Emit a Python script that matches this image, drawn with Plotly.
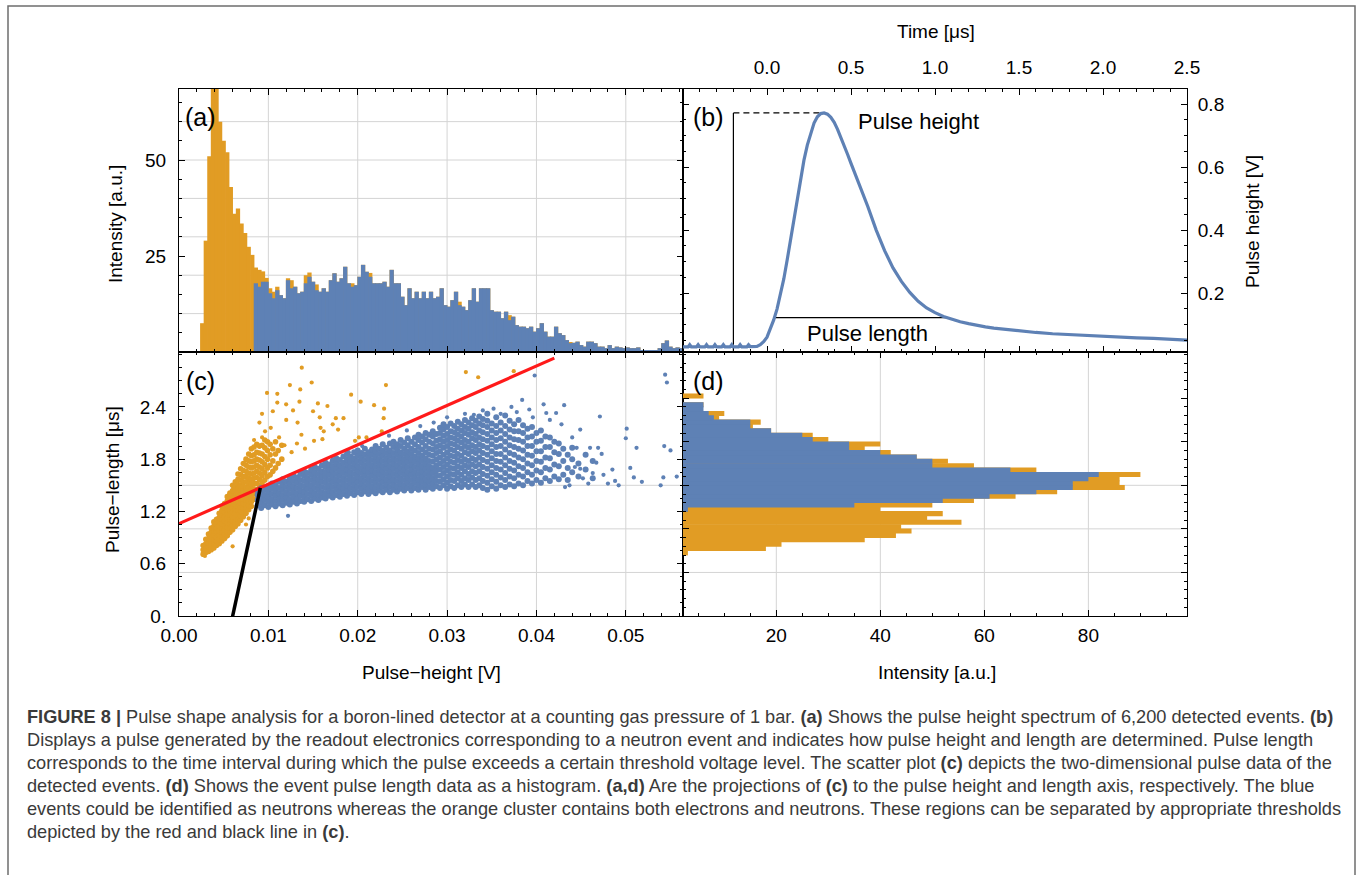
import numpy as np
import plotly.graph_objects as go

W, H = 1357, 875
BLUE = "#5E81B5"
ORANGE = "#E19C24"
FONT = "Liberation Sans, Arial, sans-serif"

# ---------------- (a) pulse-height spectrum ----------------
ph_bin_start = 0.0026      # centre of first bin [V]
ph_bin_width = 0.0004      # [V]
ph_all_low = [7.5, 29, 51, 74, 70, 60, 55, 52, 43, 36, 37.4, 33.5, 31, 27.4, 25.3]
ph_all_high = [22.0, 21.4, 21.0, 19.3, 16.6, 15.7, 17.0, 14.8, 14.0, 19.2,
               18.7, 17.0, 15.3, 15.7, 20.0, 20.7, 18.3, 17.6, 15.7, 16.6,
               15.7, 18.7, 20.5, 18.3, 19.2, 22.2, 17.9, 17.9, 17.4, 19.6,
               22.7, 20.9, 20.6, 17.9, 17.9, 17.9, 18.3, 17.0, 21.4, 17.9,
               17.9, 14.4, 12.2, 16.6, 14.0, 15.7, 14.0, 15.7, 14.0, 15.7,
               14.0, 14.4, 16.6, 12.2, 11.8, 13.5, 15.7, 13.1, 11.8, 10.9,
               13.5, 16.6, 13.1, 16.6, 16.6, 16.6, 10.9, 10.5, 10.5, 8.8,
               10.5, 9.6, 9.2, 7.0, 6.6, 6.6, 6.2, 6.6, 5.3, 6.2,
               7.5, 5.3, 4.0, 4.0, 6.6, 4.9, 4.4, 3.1, 2.6, 2.4,
               2.7, 1.8, 1.4, 2.7, 2.7, 2.3, 1.4, 1.4, 1.0, 1.8,
               1.0, 1.4, 1.2, 1.0, 1.2, 1.0, 1.0, 1.2, 0.5, 0.5,
               0.5, 0.5, 0.5, 1.0, 2.3, 3.0, 1.4, 1.0, 1.2, 1.0]
ph_neutron_high = [17.9, 17.0, 18.3, 18.3, 15.3, 14.0, 16.1, 14.8, 14.0, 18.7,
                   16.6, 17.0, 15.3, 15.7, 17.9, 19.6, 18.3, 16.1, 15.7, 16.6,
                   15.7, 18.7, 20.5, 18.3, 19.2, 22.2, 17.9, 17.0, 17.4, 19.6,
                   22.7, 20.9, 19.6, 17.9, 17.9, 17.9, 18.3, 17.0, 21.4, 17.9,
                   17.9, 14.4, 12.2, 16.6, 14.0, 15.7, 14.0, 15.7, 14.0, 15.7,
                   14.0, 14.4, 16.6, 12.2, 11.8, 13.5, 15.7, 12.2, 11.8, 10.9,
                   13.5, 16.6, 13.1, 16.6, 16.6, 16.6, 10.9, 10.5, 10.5, 8.8,
                   10.5, 8.3, 9.2, 7.0, 6.6, 6.6, 6.2, 6.6, 5.3, 6.2,
                   7.5, 5.3, 4.0, 4.0, 6.6, 4.9, 4.4, 3.1, 2.3, 2.4,
                   2.7, 1.8, 1.4, 2.7, 2.7, 2.3, 1.4, 1.4, 1.0, 1.8,
                   1.0, 1.4, 1.2, 1.0, 1.2, 1.0, 1.0, 1.2, 0.5, 0.5,
                   0.5, 0.5, 0.5, 1.0, 2.3, 3.0, 1.4, 1.0, 1.2, 1.0]

# ---------------- (b) single pulse ----------------
pulse_t = [-0.50, -0.47, -0.46, -0.45, -0.42, -0.41, -0.40, -0.37, -0.36, -0.35,
           -0.32, -0.31, -0.30, -0.27, -0.26, -0.25, -0.22, -0.21, -0.20, -0.17,
           -0.16, -0.15, -0.12, -0.11, -0.10, -0.08, -0.06, -0.04, -0.02, 0.00,
           0.02, 0.04, 0.06, 0.08, 0.10, 0.12, 0.14, 0.16, 0.18, 0.20,
           0.22, 0.24, 0.26, 0.28, 0.30, 0.32, 0.34, 0.36, 0.38, 0.40,
           0.42, 0.44, 0.46, 0.48, 0.50, 0.55, 0.60, 0.65, 0.70, 0.75,
           0.80, 0.85, 0.90, 0.95, 1.00, 1.05, 1.10, 1.15, 1.20, 1.25,
           1.30, 1.35, 1.40, 1.50, 1.60, 1.70, 1.80, 1.90, 2.00, 2.10,
           2.20, 2.30, 2.40, 2.50]
pulse_v = [0.029, 0.029, 0.036, 0.029, 0.029, 0.036, 0.029, 0.029, 0.036, 0.029,
           0.029, 0.036, 0.029, 0.029, 0.036, 0.029, 0.029, 0.036, 0.029, 0.029,
           0.036, 0.029, 0.029, 0.036, 0.030, 0.030, 0.031, 0.036, 0.046, 0.060,
           0.085, 0.115, 0.150, 0.195, 0.245, 0.305, 0.370, 0.440, 0.505, 0.568,
           0.622, 0.670, 0.708, 0.740, 0.760, 0.770, 0.772, 0.768, 0.758, 0.742,
           0.720, 0.695, 0.668, 0.640, 0.612, 0.545, 0.475, 0.400, 0.335, 0.280,
           0.237, 0.202, 0.174, 0.153, 0.138, 0.126, 0.117, 0.109, 0.103, 0.097,
           0.093, 0.089, 0.086, 0.080, 0.075, 0.071, 0.068, 0.065, 0.062, 0.060,
           0.058, 0.056, 0.054, 0.051]
height_marker_t = [-0.20, -0.20, 0.33]
height_marker_v = [0.013, 0.772, 0.772]
length_marker_t = [0.045, 1.07]
length_marker_v = [0.122, 0.122]

# ---------------- (c) scatter: pulse height [V] vs pulse length [us] ----------------
neutron_cols = [
    (0.0088, "1.27 1.33 1.39 1.44"),
    (0.0092, "1.24 1.30 1.36 1.42 1.47"),
    (0.0096, "1.27 1.33 1.39 1.45"),
    (0.0100, "1.25 1.31 1.37 1.43 1.49"),
    (0.0104, "1.28 1.34 1.40 1.46 1.52"),
    (0.0108, "1.26 1.32 1.38 1.44 1.50"),
    (0.0112, "1.29 1.35 1.41 1.47 1.54"),
    (0.0116, "1.27 1.33 1.39 1.45 1.51 1.57"),
    (0.0120, "1.30 1.36 1.42 1.48 1.54"),
    (0.0124, "1.28 1.34 1.40 1.46 1.52 1.58"),
    (0.0128, "1.31 1.37 1.43 1.49 1.55 1.61"),
    (0.0132, "1.29 1.35 1.41 1.47 1.53 1.59"),
    (0.0136, "1.32 1.38 1.44 1.50 1.56 1.63"),
    (0.0140, "1.31 1.37 1.43 1.49 1.55 1.61 1.66"),
    (0.0144, "1.34 1.40 1.46 1.52 1.58 1.64"),
    (0.0148, "1.32 1.38 1.44 1.50 1.56 1.62 1.68"),
    (0.0152, "1.35 1.41 1.47 1.53 1.59 1.65 1.71"),
    (0.0156, "1.33 1.39 1.45 1.51 1.57 1.63 1.69"),
    (0.0160, "1.36 1.42 1.48 1.54 1.60 1.66 1.73"),
    (0.0164, "1.35 1.41 1.47 1.53 1.59 1.65 1.71 1.76"),
    (0.0168, "1.38 1.44 1.50 1.56 1.62 1.68 1.74"),
    (0.0172, "1.36 1.42 1.48 1.54 1.60 1.66 1.72 1.78"),
    (0.0176, "1.39 1.45 1.51 1.57 1.63 1.69 1.75 1.81"),
    (0.0180, "1.37 1.43 1.49 1.55 1.61 1.67 1.73 1.79"),
    (0.0184, "1.40 1.46 1.52 1.58 1.64 1.70 1.76 1.83"),
    (0.0188, "1.38 1.44 1.50 1.56 1.62 1.68 1.74 1.80 1.86"),
    (0.0192, "1.41 1.47 1.53 1.59 1.65 1.71 1.77 1.83"),
    (0.0196, "1.39 1.45 1.51 1.57 1.63 1.69 1.75 1.81 1.88"),
    (0.0200, "1.42 1.48 1.54 1.60 1.66 1.72 1.78 1.84 1.90"),
    (0.0204, "1.40 1.46 1.52 1.58 1.64 1.70 1.76 1.82 1.87"),
    (0.0208, "1.43 1.49 1.55 1.61 1.67 1.73 1.79 1.85 1.92"),
    (0.0212, "1.40 1.46 1.52 1.58 1.64 1.70 1.76 1.82 1.88"),
    (0.0216, "1.43 1.49 1.55 1.61 1.67 1.73 1.79 1.85 1.91"),
    (0.0220, "1.41 1.47 1.53 1.59 1.65 1.71 1.77 1.83 1.89 1.95"),
    (0.0224, "1.44 1.50 1.56 1.62 1.68 1.74 1.80 1.86 1.92"),
    (0.0228, "1.42 1.48 1.54 1.60 1.66 1.72 1.78 1.84 1.90 1.97"),
    (0.0232, "1.45 1.51 1.57 1.63 1.69 1.75 1.81 1.87 1.93"),
    (0.0236, "1.42 1.48 1.54 1.60 1.66 1.72 1.78 1.84 1.90 1.98"),
    (0.0240, "1.45 1.51 1.57 1.63 1.69 1.75 1.81 1.87 1.94 2.00"),
    (0.0244, "1.43 1.49 1.55 1.61 1.67 1.73 1.79 1.85 1.91 1.97"),
    (0.0248, "1.46 1.52 1.58 1.64 1.70 1.76 1.82 1.88 1.95 2.02"),
    (0.0252, "1.44 1.50 1.56 1.62 1.68 1.74 1.80 1.86 1.92 1.99"),
    (0.0256, "1.47 1.53 1.59 1.65 1.71 1.77 1.83 1.89 1.96 2.04"),
    (0.0260, "1.44 1.50 1.56 1.62 1.68 1.74 1.80 1.86 1.92 2.00"),
    (0.0264, "1.47 1.53 1.59 1.65 1.71 1.77 1.83 1.90 1.97 2.05"),
    (0.0268, "1.45 1.51 1.57 1.63 1.69 1.75 1.81 1.87 1.94 2.02 2.08"),
    (0.0272, "1.48 1.54 1.60 1.66 1.72 1.78 1.84 1.91 1.99 2.06"),
    (0.0276, "1.45 1.51 1.57 1.63 1.69 1.75 1.81 1.88 1.95 2.03 2.10"),
    (0.0280, "1.48 1.54 1.60 1.66 1.72 1.78 1.85 1.92 2.00 2.08"),
    (0.0284, "1.46 1.52 1.58 1.64 1.70 1.77 1.84 1.91 1.98 2.06 2.12"),
    (0.0288, "1.49 1.55 1.61 1.67 1.73 1.80 1.87 1.94 2.01 2.09"),
    (0.0292, "1.47 1.54 1.61 1.68 1.75 1.82 1.89 1.96 2.03 2.10 2.16"),
    (0.0296, "1.50 1.57 1.64 1.71 1.78 1.85 1.93 2.00 2.07 2.14 2.20"),
    (0.0300, "1.46 1.53 1.60 1.67 1.74 1.81 1.88 1.95 2.02 2.09 2.17"),
    (0.0304, "1.49 1.56 1.63 1.70 1.77 1.84 1.91 1.98 2.05 2.12 2.21"),
    (0.0308, "1.47 1.55 1.62 1.69 1.76 1.83 1.90 1.97 2.04 2.11 2.18"),
    (0.0312, "1.50 1.58 1.65 1.72 1.79 1.86 1.94 2.01 2.08 2.15 2.23"),
    (0.0316, "1.48 1.55 1.62 1.70 1.77 1.84 1.92 1.99 2.06 2.13 2.20"),
    (0.0320, "1.51 1.58 1.66 1.73 1.80 1.88 1.95 2.02 2.10 2.17 2.25"),
    (0.0324, "1.48 1.56 1.63 1.71 1.78 1.86 1.93 2.00 2.08 2.15 2.22"),
    (0.0328, "1.51 1.59 1.66 1.74 1.81 1.89 1.96 2.04 2.11 2.19 2.27"),
    (0.0332, "1.48 1.56 1.64 1.72 1.79 1.87 1.94 2.02 2.09 2.17 2.24"),
    (0.0336, "1.50 1.58 1.66 1.74 1.82 1.90 1.97 2.05 2.13 2.21 2.29"),
    (0.0340, "1.47 1.55 1.63 1.71 1.79 1.87 1.95 2.03 2.11 2.19 2.26"),
    (0.0345, "1.45 1.53 1.61 1.69 1.77 1.85 1.93 2.01 2.09 2.17 2.24 2.32"),
    (0.0350, "1.49 1.57 1.65 1.73 1.81 1.89 1.97 2.05 2.13 2.21"),
    (0.0355, "1.46 1.54 1.62 1.70 1.78 1.86 1.94 2.02 2.10 2.18 2.28"),
    (0.0360, "1.50 1.59 1.68 1.77 1.86 1.95 2.04 2.13 2.22"),
    (0.0365, "1.48 1.56 1.64 1.73 1.82 1.91 2.00 2.09 2.18 2.30"),
    (0.0370, "1.51 1.60 1.69 1.78 1.87 1.96 2.05 2.14 2.24"),
    (0.0375, "1.49 1.58 1.67 1.76 1.85 1.94 2.03 2.12 2.20"),
    (0.0380, "1.52 1.62 1.72 1.82 1.92 2.02 2.12 2.25"),
    (0.0385, "1.50 1.60 1.70 1.80 1.90 2.00 2.10 2.19"),
    (0.0390, "1.55 1.65 1.75 1.85 1.95 2.05 2.15"),
    (0.0395, "1.52 1.62 1.73 1.84 1.95 2.06 2.17"),
    (0.0400, "1.56 1.67 1.78 1.89 2.00 2.10"),
    (0.0405, "1.53 1.65 1.77 1.89 2.01 2.13"),
    (0.0410, "1.58 1.70 1.82 1.94 2.06"),
    (0.0415, "1.55 1.68 1.81 1.94 2.05"),
    (0.0420, "1.60 1.74 1.88 2.00"),
    (0.0425, "1.57 1.72 1.86 1.98"),
    (0.0430, "1.62 1.78 1.92"),
    (0.0435, "1.56 1.70 1.85"),
    (0.0440, "1.65 1.80 1.93"),
    (0.0447, "1.60 1.75"),
    (0.0455, "1.68 1.85"),
    (0.0463, "1.58 1.78"),
]
neutron_sparse_x = [0.0398, 0.0544, 0.0546, 0.0543, 0.0550, 0.0557, 0.0542, 0.0539, 0.0518, 0.0509,
                    0.0505, 0.0501, 0.0500, 0.0512, 0.0471, 0.0449, 0.0431, 0.0408, 0.0411, 0.0422,
                    0.0384, 0.0392, 0.0372, 0.0492, 0.0480, 0.0458, 0.0467, 0.0460, 0.0469, 0.0445,
                    0.0443, 0.0437, 0.0432, 0.0449, 0.0122, 0.0475, 0.0485, 0.0452, 0.0440, 0.0428,
                    0.0415, 0.0360, 0.0340, 0.0320, 0.0300, 0.0285, 0.0270, 0.0255, 0.0235, 0.0205,
                    0.0190, 0.0172, 0.0152, 0.0135, 0.0118, 0.0378, 0.0396, 0.0352, 0.0330, 0.0473,
                    0.0488, 0.0463]
neutron_sparse_y = [2.76, 2.77, 2.68, 1.95, 1.90, 1.60, 1.59, 1.50, 1.54, 1.59,
                    1.70, 2.15, 2.04, 1.93, 2.29, 2.14, 2.42, 2.43, 2.33, 2.33,
                    2.48, 2.37, 2.40, 1.50, 1.52, 1.52, 1.76, 1.93, 1.93, 1.93,
                    1.71, 1.50, 1.48, 1.69, 1.15, 1.62, 1.68, 1.58, 2.05, 2.20,
                    2.25, 2.32, 2.36, 2.32, 2.28, 2.22, 2.18, 2.13, 2.07, 1.95,
                    1.88, 1.80, 1.72, 1.62, 1.55, 2.34, 2.28, 2.38, 2.31, 1.86,
                    1.55, 1.64]

other_cols = [
    (0.0027, "0.71 0.76 0.81"),
    (0.0030, "0.73 0.78 0.83 0.88"),
    (0.0033, "0.74 0.79 0.84 0.89 0.94"),
    (0.0036, "0.76 0.81 0.86 0.91 0.96 1.01"),
    (0.0039, "0.78 0.83 0.88 0.93 0.98 1.03 1.08"),
    (0.0042, "0.81 0.86 0.91 0.96 1.01 1.06 1.11"),
    (0.0045, "0.83 0.88 0.93 0.98 1.03 1.08 1.13 1.18"),
    (0.0048, "0.86 0.91 0.96 1.01 1.06 1.11 1.16 1.21 1.26"),
    (0.0051, "0.89 0.94 0.99 1.04 1.09 1.14 1.19 1.24 1.29"),
    (0.0054, "0.92 0.97 1.02 1.07 1.12 1.17 1.22 1.27 1.32 1.37"),
    (0.0057, "0.96 1.01 1.06 1.11 1.16 1.21 1.26 1.31 1.36 1.41"),
    (0.0060, "0.99 1.04 1.09 1.14 1.19 1.24 1.29 1.34 1.39 1.44 1.50"),
    (0.0063, "1.03 1.08 1.13 1.18 1.23 1.28 1.33 1.38 1.43 1.48 1.54"),
    (0.0066, "1.06 1.11 1.16 1.21 1.26 1.31 1.36 1.41 1.46 1.51 1.57 1.63"),
    (0.0069, "1.10 1.15 1.20 1.25 1.30 1.35 1.40 1.45 1.50 1.56 1.62 1.69"),
    (0.0072, "1.14 1.19 1.24 1.29 1.34 1.39 1.44 1.49 1.54 1.60 1.67 1.75"),
    (0.0075, "1.18 1.23 1.28 1.33 1.38 1.43 1.48 1.54 1.60 1.66 1.73 1.80"),
    (0.0078, "1.22 1.27 1.32 1.37 1.42 1.47 1.52 1.58 1.64 1.71 1.78 1.86"),
    (0.0081, "1.26 1.31 1.36 1.41 1.46 1.51 1.57 1.63 1.70 1.77 1.84 1.92"),
    (0.0084, "1.34 1.40 1.46 1.52 1.58 1.64 1.71 1.78 1.85 1.94"),
    (0.0087, "1.45 1.52 1.59 1.66 1.73 1.80 1.88 1.97"),
    (0.0090, "1.50 1.57 1.64 1.71 1.79 1.87 1.95"),
    (0.0093, "1.53 1.61 1.69 1.77 1.86 1.96"),
    (0.0096, "1.56 1.65 1.74 1.83 1.93 2.02"),
    (0.0099, "1.60 1.70 1.80 1.90 2.00"),
    (0.0102, "1.62 1.73 1.85 1.97"),
    (0.0105, "1.66 1.78 1.92"),
    (0.0108, "1.70 1.86 2.00"),
    (0.0111, "1.75 1.90"),
    (0.0115, "1.80 1.96"),
]
other_sparse_x = [0.01374, 0.01485, 0.01241, 0.00985, 0.0110, 0.02316, 0.01357, 0.01926, 0.02033, 0.02183,
                  0.02295, 0.01554, 0.01661, 0.01755, 0.01841, 0.01575, 0.01348, 0.01199, 0.01276, 0.01327,
                  0.0137, 0.01584, 0.01511, 0.01605, 0.02012, 0.0197, 0.02098, 0.02269, 0.0229, 0.00929,
                  0.00963, 0.01027, 0.0321, 0.03348, 0.03746, 0.0120, 0.0090, 0.0112, 0.0118, 0.0126,
                  0.0132, 0.0141, 0.0162, 0.0172, 0.0178, 0.0150, 0.0105, 0.0093, 0.0084, 0.0110,
                  0.0060, 0.0075, 0.0078, 0.0029]
other_sparse_y = [2.85, 2.68, 2.65, 2.56, 2.55, 2.65, 2.60, 2.54, 2.46, 2.42,
                  2.38, 2.44, 2.41, 2.27, 2.27, 2.28, 2.46, 2.43, 2.36, 2.22,
                  2.08, 2.16, 2.01, 2.03, 2.05, 2.01, 2.05, 2.12, 2.27, 2.32,
                  2.12, 2.16, 2.80, 2.74, 2.81, 2.25, 2.22, 2.05, 1.96, 1.88,
                  1.98, 1.92, 2.12, 2.20, 2.14, 2.35, 2.35, 2.05, 2.02, 2.45,
                  0.80, 1.05, 1.12, 0.69]

red_x = [0.0, 0.0420]
red_y = [1.06, 2.96]
black_x = [0.0059, 0.0091]
black_y = [-0.05, 1.47]

# ---------------- (d) pulse-length histogram ----------------
pl_centers = [0.725, 0.775, 0.825, 0.875, 0.925, 0.975, 1.025, 1.075, 1.125, 1.175,
              1.225, 1.275, 1.325, 1.375, 1.425, 1.475, 1.525, 1.575, 1.625, 1.675,
              1.725, 1.775, 1.825, 1.875, 1.925, 1.975, 2.025, 2.075, 2.125, 2.175,
              2.225, 2.275, 2.325, 2.375, 2.425, 2.475, 2.525]
pl_all = [3, 18, 21, 37, 43, 46, 44, 55.6, 49, 52,
          40, 50, 58, 66, 74, 87, 86, 86, 90, 70,
          58, 53, 47, 42, 37, 40, 30, 27, 19, 15.5,
          17, 9, 10, 3, 6, 2, 6]
pl_neutron = [0, 0, 0, 0, 0, 0, 0, 0, 0, 0,
              3, 35, 52, 61, 70, 77, 77, 80, 82, 65,
              50, 50, 47, 40, 34, 34, 27, 25, 19, 15,
              15, 8, 7, 6, 6, 1.5, 1]

caption_lines = [
    "<b>FIGURE 8 |</b> Pulse shape analysis for a boron-lined detector at a counting gas pressure of 1 bar. <b>(a)</b> Shows the pulse height spectrum of 6,200 detected events. <b>(b)</b>",
    "Displays a pulse generated by the readout electronics corresponding to a neutron event and indicates how pulse height and length are determined. Pulse length",
    "corresponds to the time interval during which the pulse exceeds a certain threshold voltage level. The scatter plot <b>(c)</b> depicts the two-dimensional pulse data of the",
    "detected events. <b>(d)</b> Shows the event pulse length data as a histogram. <b>(a,d)</b> Are the projections of <b>(c)</b> to the pulse height and length axis, respectively. The blue",
    "events could be identified as neutrons whereas the orange cluster contains both electrons and neutrons. These regions can be separated by appropriate thresholds",
    "depicted by the red and black line in <b>(c)</b>.",
]

# ---------------- build ----------------
def flatten(cols):
    xs, ys = [], []
    for x, s in cols:
        for v in s.split():
            xs.append(x)
            ys.append(float(v))
    return xs, ys

nx, ny = flatten(neutron_cols)
ox, oy = flatten(other_cols)

ph_all = ph_all_low + ph_all_high
ph_neutron = [0] * len(ph_all_low) + ph_neutron_high
ph_centers = [ph_bin_start + ph_bin_width * i for i in range(len(ph_all))]

def px(p):
    return p / W

def py(p):
    return 1 - p / H

XA = [px(179), px(683)]
XB = [px(683), px(1187)]
YT = [py(352), py(89)]
YB = [py(616), py(352)]

fig = go.Figure()

# (a)
fig.add_trace(go.Bar(x=ph_centers, y=ph_all, width=ph_bin_width * 1.2, marker=dict(color=ORANGE, line=dict(width=0)),
                     opacity=1, xaxis="x", yaxis="y", showlegend=False))
fig.add_trace(go.Bar(x=ph_centers, y=ph_neutron, width=ph_bin_width * 1.2, marker=dict(color=BLUE, line=dict(width=0)),
                     opacity=1, xaxis="x", yaxis="y", showlegend=False))
# (b)
fig.add_trace(go.Scatter(x=height_marker_t[:2], y=height_marker_v[:2], mode="lines", line=dict(color="black", width=1.2),
                         xaxis="x2", yaxis="y2", showlegend=False))
fig.add_trace(go.Scatter(x=height_marker_t[1:], y=height_marker_v[1:], mode="lines",
                         line=dict(color="black", width=1.2, dash="6px,4px"), xaxis="x2", yaxis="y2", showlegend=False))
fig.add_trace(go.Scatter(x=length_marker_t, y=length_marker_v, mode="lines", line=dict(color="black", width=1.2),
                         xaxis="x2", yaxis="y2", showlegend=False))
fig.add_trace(go.Scatter(x=pulse_t, y=pulse_v, mode="lines", line=dict(color=BLUE, width=3.2),
                         xaxis="x2", yaxis="y2", showlegend=False))
# (c)
fig.add_trace(go.Scatter(x=ox, y=oy, mode="markers", marker=dict(color=ORANGE, size=5.6, line=dict(width=0)),
                         xaxis="x3", yaxis="y3", showlegend=False))
fig.add_trace(go.Scatter(x=other_sparse_x, y=other_sparse_y, mode="markers", marker=dict(color=ORANGE, size=4.2, line=dict(width=0)),
                         xaxis="x3", yaxis="y3", showlegend=False))
fig.add_trace(go.Scatter(x=nx, y=ny, mode="markers", marker=dict(color=BLUE, size=6.0, line=dict(width=0)),
                         xaxis="x3", yaxis="y3", showlegend=False))
fig.add_trace(go.Scatter(x=neutron_sparse_x, y=neutron_sparse_y, mode="markers", marker=dict(color=BLUE, size=4.2, line=dict(width=0)),
                         xaxis="x3", yaxis="y3", showlegend=False))
fig.add_trace(go.Scatter(x=red_x, y=red_y, mode="lines", line=dict(color="#FF1A1A", width=3.2),
                         xaxis="x3", yaxis="y3", showlegend=False))
fig.add_trace(go.Scatter(x=black_x, y=black_y, mode="lines", line=dict(color="black", width=3.5),
                         xaxis="x3", yaxis="y3", showlegend=False))
# (d)
fig.add_trace(go.Bar(y=pl_centers, x=pl_all, orientation="h", width=0.058, marker=dict(color=ORANGE, line=dict(width=0)),
                     opacity=1, xaxis="x4", yaxis="y4", showlegend=False))
fig.add_trace(go.Bar(y=pl_centers, x=pl_neutron, orientation="h", width=0.058, marker=dict(color=BLUE, line=dict(width=0)),
                     opacity=1, xaxis="x4", yaxis="y4", showlegend=False))

tickfont = dict(family=FONT, size=19, color="black")

def axis(**kw):
    base = dict(showline=True, linecolor="black", linewidth=1, mirror="allticks", ticks="inside",
                ticklen=6, tickcolor="black", tickwidth=1, showgrid=False, zeroline=False,
                automargin=False, tickfont=tickfont, fixedrange=True)
    base.update(kw)
    return base

def minor(d, t0=0):
    return dict(ticks="inside", ticklen=3, tickcolor="black", tickmode="linear", dtick=d, tick0=t0, showgrid=False)

fig.update_layout(
    width=W, height=H, margin=dict(l=0, r=0, t=0, b=0),
    paper_bgcolor="white", plot_bgcolor="white", barmode="overlay",
    font=dict(family=FONT, color="black"),
    xaxis=axis(domain=XA, anchor="y", range=[0, 0.0564], showticklabels=False,
               tickmode="linear", tick0=0, dtick=0.01, minor=minor(0.002)),
    yaxis=axis(domain=YT, anchor="x", range=[0, 68.5], tickmode="array", tickvals=[25, 50],
               ticktext=["25", "50"], ticklabelstandoff=8, minor=minor(5)),
    xaxis2=axis(domain=XB, anchor="y2", range=[-0.5, 2.5], side="top", tickmode="array",
                tickvals=[0, 0.5, 1.0, 1.5, 2.0, 2.5], ticktext=["0.0", "0.5", "1.0", "1.5", "2.0", "2.5"],
                ticklabelstandoff=6, minor=minor(0.1)),
    yaxis2=axis(domain=YT, anchor="x2", range=[0.013, 0.848], side="right", tickmode="array",
                tickvals=[0.2, 0.4, 0.6, 0.8], ticklabelstandoff=6, minor=minor(0.05)),
    xaxis3=axis(domain=XA, anchor="y3", range=[0, 0.0564], tickmode="linear", tick0=0, dtick=0.01,
                tickformat=".2f", ticklabelstandoff=2, minor=minor(0.002)),
    yaxis3=axis(domain=YB, anchor="x3", range=[0, 3.03], tickmode="array", tickvals=[0, 0.6, 1.2, 1.8, 2.4],
                ticktext=["0.", "0.6", "1.2", "1.8", "2.4"], ticklabelstandoff=8, minor=minor(0.15)),
    xaxis4=axis(domain=XB, anchor="y4", range=[2.06, 98.96], tickmode="array", tickvals=[20, 40, 60, 80],
                ticklabelstandoff=2, minor=minor(5)),
    yaxis4=axis(domain=YB, anchor="x4", range=[0, 3.03], showticklabels=False, tickmode="array",
                tickvals=[0.5, 1.0, 1.5, 2.0, 2.5], minor=minor(0.1)),
)

GRID = "#D4D4D4"
shapes = []
for v in [0.01, 0.02, 0.03, 0.04, 0.05]:
    shapes.append(dict(type="line", xref="x", yref="y domain", x0=v, x1=v, y0=0, y1=1, layer="below",
                       line=dict(color=GRID, width=1)))
    shapes.append(dict(type="line", xref="x3", yref="y3 domain", x0=v, x1=v, y0=0, y1=1, layer="below",
                       line=dict(color=GRID, width=1)))
for v in [10, 20, 30, 40, 50, 60]:
    shapes.append(dict(type="line", xref="x domain", yref="y", x0=0, x1=1, y0=v, y1=v, layer="below",
                       line=dict(color=GRID, width=1)))
for v in [0.5, 1.0, 1.5]:
    for xr, yr in [("x3 domain", "y3"), ("x4 domain", "y4")]:
        shapes.append(dict(type="line", xref=xr, yref=yr, x0=0, x1=1, y0=v, y1=v, layer="below",
                           line=dict(color=GRID, width=1)))
for v in [20, 40, 60, 80]:
    shapes.append(dict(type="line", xref="x4", yref="y4 domain", x0=v, x1=v, y0=0, y1=1, layer="below",
                       line=dict(color=GRID, width=1)))
shapes.append(dict(type="rect", xref="paper", yref="paper", x0=px(8), x1=px(1355), y0=-0.02, y1=py(6),
                   line=dict(color="#6E6E6E", width=1.5), fillcolor="rgba(0,0,0,0)"))
fig.update_layout(shapes=shapes)

ann = []
def label(text, x, y, size=19, angle=0, xanchor="center", yanchor="middle", color="black"):
    ann.append(dict(text=text, x=px(x), y=py(y), xref="paper", yref="paper", showarrow=False,
                    textangle=angle, xanchor=xanchor, yanchor=yanchor,
                    font=dict(family=FONT, size=size, color=color)))

label("Intensity [a.u.]", 115, 224, angle=-90)
label("Pulse\u2212length [\u03bcs]", 112, 480, angle=-90)
label("Pulse\u2212height [V]", 431, 672)
label("Intensity [a.u.]", 937, 672)
label("Time [\u03bcs]", 936, 31)
label("Pulse height [V]", 1252, 222, angle=-90)
label("(a)", 200, 117, size=25)
label("(b)", 708, 117, size=25)
label("(c)", 200, 381, size=25)
label("(d)", 708, 381, size=25)

# panel (b) annotations placed in data coordinates
ann.append(dict(text="Pulse height", x=0.90, y=0.745, xref="x2", yref="y2", showarrow=False,
                font=dict(family=FONT, size=22, color="black")))
ann.append(dict(text="Pulse length", x=0.60, y=0.073, xref="x2", yref="y2", showarrow=False,
                font=dict(family=FONT, size=22, color="black")))

for i, line in enumerate(caption_lines):
    label(line, 25, 717 + 23 * i, size=18.2, xanchor="left", color="#3A3A3A")

fig.update_layout(annotations=ann)
fig.write_html("out.html")
